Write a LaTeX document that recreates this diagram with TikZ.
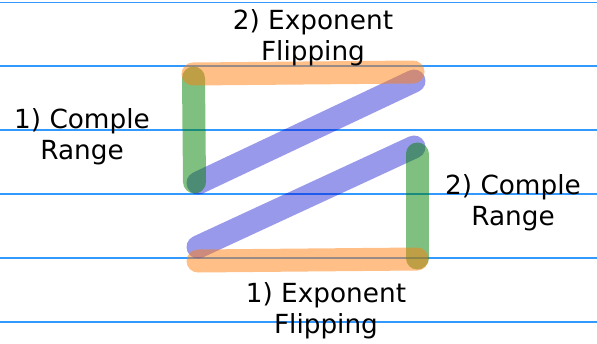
\documentclass[tikz,border=0pt]{standalone}
\usepackage{fontspec}
\setmainfont{DejaVu Sans}
\definecolor{gridblue}{RGB}{51,153,255}
\definecolor{cflip}{RGB}{255,127,14}
\definecolor{crange}{RGB}{0,128,0}
\definecolor{cdiag}{RGB}{0,0,205}
\tikzset{
  gridline/.style={draw=gridblue, line width=1.3pt},
  stroke/.style={line width=23pt, line cap=round},
  flip/.style={stroke, draw=cflip, draw opacity=0.5},
  rng/.style={stroke, draw=crange, draw opacity=0.5},
  diag/.style={stroke, draw=cdiag, draw opacity=0.4},
  lbl/.style={align=center, inner sep=0pt, anchor=base, font=\fontsize{26.3}{31}\selectfont}
}
\begin{document}
\begin{tikzpicture}[x=1pt,y=-1pt]
\useasboundingbox (0,0) rectangle (597,343);
% grid lines
\foreach \yy [count=\i] in {2.5,66,130,194,258,322} {
  \coordinate (gL\i) at (0,\yy);
  \coordinate (gR\i) at (597,\yy);
  \draw[gridline] (gL\i) -- (gR\i);
}
% key points
\coordinate (tl) at (193,74);
\coordinate (tr) at (413,72);
\coordinate (lt) at (193.5,78);
\coordinate (lb) at (194.5,182);
\coordinate (d1a) at (198,183);
\coordinate (d1b) at (414,81);
\coordinate (d2a) at (198,247);
\coordinate (d2b) at (414,147);
\coordinate (rt) at (417,154);
\coordinate (rb) at (417,258);
\coordinate (bl) at (198,261);
\coordinate (br) at (417,259);
% strokes
\draw[diag] (d1a) -- (d1b);
\draw[diag] (d2a) -- (d2b);
\draw[rng] (lt) -- (lb);
\draw[rng] (rt) -- (rb);
\draw[flip] (tl) -- (tr);
\draw[flip] (bl) -- (br);
% labels (anchor = baseline of last line)
\node[lbl] (topl) at (313,60) {2) Exponent\\Flipping};
\node[lbl] (leftl) at (82,159) {1) Comple\\Range};
\node[lbl] (rightl) at (513,225) {2) Comple\\Range};
\node[lbl] (botl) at (326,333) {1) Exponent\\Flipping};
\end{tikzpicture}
\end{document}
